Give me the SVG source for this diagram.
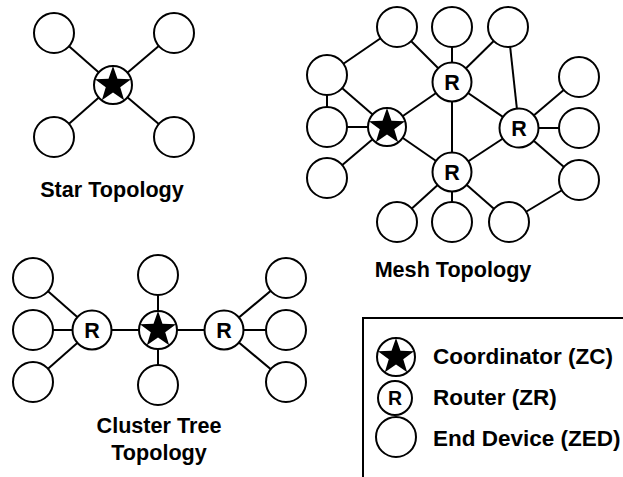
<svg xmlns="http://www.w3.org/2000/svg" xmlns:xlink="http://www.w3.org/1999/xlink" width="623" height="477" viewBox="0 0 623 477">
<style>
.n{fill:#fff;stroke:#000;stroke-width:2}
.e line{stroke:#000;stroke-width:2}
.lbl{font-family:"Liberation Sans",Arial,sans-serif;font-weight:bold;font-size:21.6px;text-anchor:middle}
.leg{font-family:"Liberation Sans",Arial,sans-serif;font-weight:bold;font-size:22.5px}
.rt{font-family:"Liberation Sans",Arial,sans-serif;font-weight:bold;text-anchor:middle}
</style>
<defs>
<g id="zc"><circle r="19" class="n"/><path d="M0,-19 L4.47,-6.15 L18.07,-5.87 L7.23,2.35 L11.17,15.37 L0,7.6 L-11.17,15.37 L-7.23,2.35 L-18.07,-5.87 L-4.47,-6.15 Z" fill="#000"/></g>
<g id="zr"><circle r="19.5" class="n"/><text y="7.5" class="rt" font-size="21.5">R</text></g>
<circle id="zed" r="20" class="n"/>
</defs>
<g id="connectors" class="e">
<line x1="54" y1="33" x2="113" y2="85"/><line x1="174" y1="33" x2="113" y2="85"/><line x1="54" y1="137" x2="113" y2="85"/><line x1="174" y1="137" x2="113" y2="85"/>
<line x1="397" y1="27" x2="327" y2="75"/><line x1="397" y1="27" x2="452" y2="82"/><line x1="452" y1="27" x2="452" y2="82"/><line x1="508" y1="27" x2="452" y2="82"/><line x1="508" y1="27" x2="519" y2="128"/>
<line x1="327" y1="75" x2="327" y2="127"/><line x1="327" y1="75" x2="387" y2="127"/><line x1="327" y1="127" x2="387" y2="127"/><line x1="327" y1="178" x2="387" y2="127"/>
<line x1="387" y1="127" x2="452" y2="82"/><line x1="387" y1="127" x2="452" y2="172"/><line x1="452" y1="82" x2="452" y2="172"/><line x1="452" y1="82" x2="519" y2="128"/><line x1="519" y1="128" x2="452" y2="172"/>
<line x1="519" y1="128" x2="579" y2="77"/><line x1="519" y1="128" x2="579" y2="128"/><line x1="519" y1="128" x2="579" y2="180"/>
<line x1="452" y1="172" x2="397" y2="222"/><line x1="452" y1="172" x2="452" y2="222"/><line x1="452" y1="172" x2="509" y2="222"/><line x1="509" y1="222" x2="579" y2="180"/>
<line x1="33" y1="278" x2="92" y2="330"/><line x1="33" y1="330" x2="92" y2="330"/><line x1="33" y1="382" x2="92" y2="330"/><line x1="92" y1="330" x2="224" y2="330"/>
<line x1="158" y1="275" x2="158" y2="385"/><line x1="224" y1="330" x2="286" y2="278"/><line x1="224" y1="330" x2="286" y2="330"/><line x1="224" y1="330" x2="286" y2="382"/>
</g>
<g id="star-topology">
<use id="s-c" href="#zc" x="113" y="85"/>
<use id="s-e1" href="#zed" x="54" y="33"/><use id="s-e2" href="#zed" x="174" y="33"/><use id="s-e3" href="#zed" x="54" y="137"/><use id="s-e4" href="#zed" x="174" y="137"/>
<text class="lbl" x="112" y="197">Star Topology</text>
</g>
<g id="mesh-topology">
<use id="m-c" href="#zc" x="387" y="127"/>
<use id="m-r1" href="#zr" x="452" y="82"/><use id="m-r2" href="#zr" x="519" y="128"/><use id="m-r3" href="#zr" x="452" y="172"/>
<use id="m-e1" href="#zed" x="397" y="27"/><use id="m-e2" href="#zed" x="452" y="27"/><use id="m-e3" href="#zed" x="508" y="27"/>
<use id="m-e4" href="#zed" x="327" y="75"/><use id="m-e5" href="#zed" x="327" y="127"/><use id="m-e6" href="#zed" x="327" y="178"/>
<use id="m-e7" href="#zed" x="579" y="77"/><use id="m-e8" href="#zed" x="579" y="128"/><use id="m-e9" href="#zed" x="579" y="180"/>
<use id="m-e10" href="#zed" x="397" y="222"/><use id="m-e11" href="#zed" x="452" y="222"/><use id="m-e12" href="#zed" x="509" y="222"/>
<text class="lbl" x="453" y="277">Mesh Topology</text>
</g>
<g id="cluster-tree-topology">
<use id="c-c" href="#zc" x="158" y="330"/>
<use id="c-r1" href="#zr" x="92" y="330"/><use id="c-r2" href="#zr" x="224" y="330"/>
<use id="c-e1" href="#zed" x="33" y="278"/><use id="c-e2" href="#zed" x="33" y="330"/><use id="c-e3" href="#zed" x="33" y="382"/>
<use id="c-e4" href="#zed" x="158" y="275"/><use id="c-e5" href="#zed" x="158" y="385"/>
<use id="c-e6" href="#zed" x="286" y="278"/><use id="c-e7" href="#zed" x="286" y="330"/><use id="c-e8" href="#zed" x="286" y="382"/>
<text class="lbl" x="159" y="433">Cluster Tree</text>
<text class="lbl" x="159" y="460">Topology</text>
</g>
<g id="legend">
<path d="M363,477 V318 H623" fill="none" stroke="#000" stroke-width="2"/>
<use id="l-c" href="#zc" x="396" y="357"/>
<g id="l-r"><circle cx="395" cy="398" r="17" class="n"/><text x="395" y="405" class="rt" font-size="19.5">R</text></g>
<use id="l-e" href="#zed" x="396" y="437"/>
<text class="leg" x="433" y="364">Coordinator (ZC)</text>
<text class="leg" x="433" y="405">Router (ZR)</text>
<text class="leg" x="433" y="446">End Device (ZED)</text>
</g>
</svg>
